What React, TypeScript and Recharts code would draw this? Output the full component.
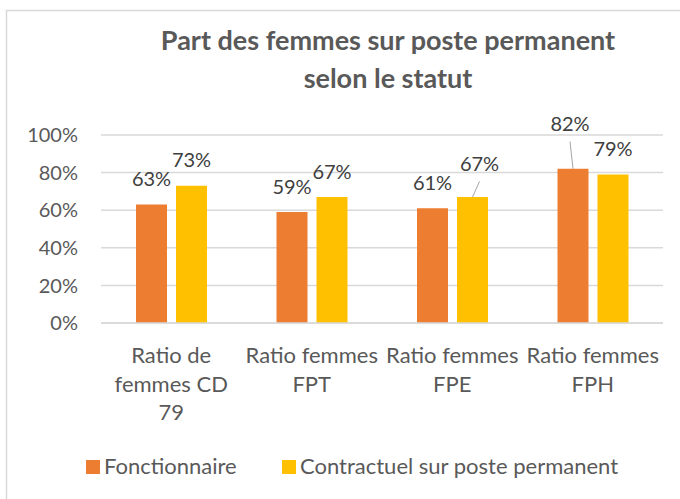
import React from 'react';
import { BarChart, Bar, XAxis, YAxis, CartesianGrid, LabelList } from 'recharts';

// Categories and values
const CATEGORIES: string[] = [
  'Ratio de femmes CD 79',
  'Ratio femmes FPT',
  'Ratio femmes FPE',
  'Ratio femmes FPH',
];
const FONCTIONNAIRE: number[] = [0.63, 0.59, 0.61, 0.82];
const CONTRACTUEL: number[] = [0.73, 0.67, 0.67, 0.79];
const Y_TICKS: number[] = [0, 0.2, 0.4, 0.6, 0.8, 1];

const SERIES = [
  { key: 'fonctionnaire', name: 'Fonctionnaire', color: '#ED7D31' },
  { key: 'contractuel', name: 'Contractuel sur poste permanent', color: '#FFC000' },
];

const TITLE_LINES = ['Part des femmes sur poste permanent', 'selon le statut'];

const data = CATEGORIES.map((name, i) => ({
  name,
  fonctionnaire: FONCTIONNAIRE[i],
  contractuel: CONTRACTUEL[i],
}));

// labels dragged away from their bar in the original, with a leader line
const LABEL_NUDGE: Record<string, { dx: number; dy: number }> = {
  'contractuel-2': { dx: 7, dy: -7.6 },
  'fonctionnaire-3': { dx: -3, dy: -19.3 },
};

const FONT = 'Lato, "Open Sans", sans-serif';
const AXIS_GREY = '#595959';
const GRID = '#d9d9d9';
const TICK_SIZE = 22;
const WRAP_WIDTH = 136;

const pct = (v: number) => `${Math.round(v * 100)}%`;

// greedy word wrap measured with a canvas, like Excel wraps category labels
let ctx: CanvasRenderingContext2D | null = null;
const measure = (s: string) => {
  if (!ctx) {
    ctx = document.createElement('canvas').getContext('2d');
  }
  if (!ctx) return s.length * TICK_SIZE * 0.5;
  ctx.font = `${TICK_SIZE}px Lato`;
  return ctx.measureText(s).width;
};
const wrap = (label: string) => {
  const lines: string[] = [];
  let cur = '';
  label.split(' ').forEach((w) => {
    const next = cur ? `${cur} ${w}` : w;
    if (cur && measure(next) > WRAP_WIDTH) {
      lines.push(cur);
      cur = w;
    } else {
      cur = next;
    }
  });
  if (cur) lines.push(cur);
  return lines;
};

const makeLabel = (seriesKey: string) => (props: any) => {
  const { x, y, width, value, index } = props;
  const cx = Number(x) + Number(width) / 2;
  const top = Number(y);
  const nudge = LABEL_NUDGE[`${seriesKey}-${index}`];
  const lx = cx + (nudge ? nudge.dx : 0);
  const base = top - 18.5 + (nudge ? nudge.dy : 0);
  return (
    <g>
      {nudge && <line x1={lx} y1={base + 10.5} x2={cx} y2={top} stroke="#a6a6a6" strokeWidth={1} />}
      <text x={lx} y={base} textAnchor="middle" fill="#404040" fontFamily={FONT} fontSize={20}>
        {pct(value)}
      </text>
    </g>
  );
};

const XTick = (props: any) => {
  const { x, y, payload } = props;
  const lines = wrap(String(payload.value));
  return (
    <text x={x} y={y} textAnchor="middle" fill={AXIS_GREY} fontFamily={FONT} fontSize={TICK_SIZE}>
      {lines.map((l, i) => (
        <tspan key={i} x={x} y={y + i * 28.7}>
          {l}
        </tspan>
      ))}
    </text>
  );
};

export default function App() {
  return (
    <div style={{ position: 'absolute', left: 0, top: 0, width: 680, height: 499, background: '#fff' }}>
      <BarChart
        width={680}
        height={499}
        data={data}
        margin={{ top: 135, right: 17, bottom: 0, left: 0 }}
        barSize={31}
        barGap={9}
      >
        <CartesianGrid vertical={false} stroke={GRID} strokeWidth={1.5} />
        <XAxis
          dataKey="name"
          height={176}
          interval={0}
          axisLine={{ stroke: GRID, strokeWidth: 1.5 }}
          tickLine={false}
          tickSize={0}
          tickMargin={40}
          tick={<XTick />}
        />
        <YAxis
          width={101}
          domain={[0, 1]}
          ticks={Y_TICKS}
          tickFormatter={pct}
          axisLine={false}
          tickLine={false}
          tickSize={0}
          tickMargin={23}
          tick={{ fill: AXIS_GREY, fontSize: 20, fontFamily: FONT }}
        />
        {SERIES.map((s) => (
          <Bar key={s.key} dataKey={s.key} name={s.name} fill={s.color} isAnimationActive={false}>
            <LabelList dataKey={s.key} content={makeLabel(s.key)} />
          </Bar>
        ))}
      </BarChart>
      <svg
        width={680}
        height={499}
        style={{ position: 'absolute', left: 0, top: 0, pointerEvents: 'none' }}
      >
        <rect x={6.5} y={10.5} width={900} height={700} fill="none" stroke={GRID} strokeWidth={1.5} />
        {TITLE_LINES.map((line, i) => (
          <text
            key={line}
            x={388}
            y={50 + i * 38}
            textAnchor="middle"
            fill={AXIS_GREY}
            fontFamily={FONT}
            fontWeight="bold"
            fontSize={27}
          >
            {line}
          </text>
        ))}
        <rect x={86} y={460} width={14} height={14} fill={SERIES[0].color} />
        <text x={104} y={474} fill={AXIS_GREY} fontFamily={FONT} fontSize={22}>
          {SERIES[0].name}
        </text>
        <rect x={282} y={460} width={14} height={14} fill={SERIES[1].color} />
        <text x={300} y={474} fill={AXIS_GREY} fontFamily={FONT} fontSize={22}>
          {SERIES[1].name}
        </text>
      </svg>
    </div>
  );
}
